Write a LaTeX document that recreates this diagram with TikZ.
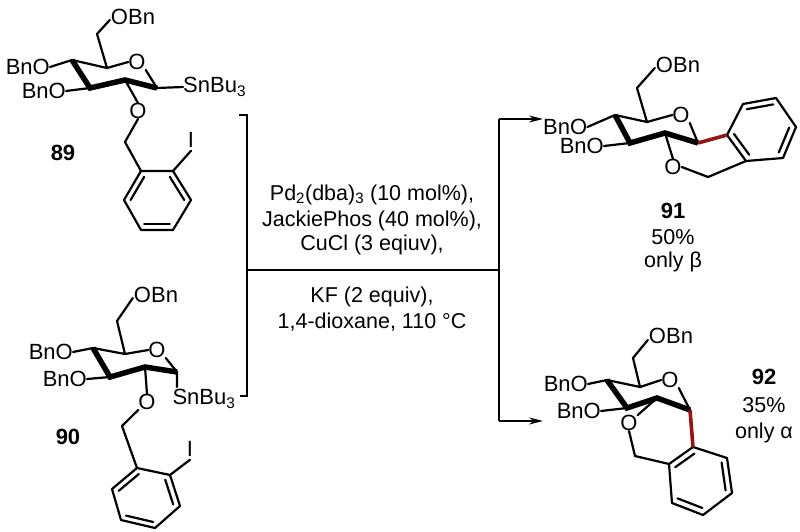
\documentclass[tikz,border=0pt]{standalone}
\usepackage{fontspec}
\setmainfont{Liberation Sans}
\usetikzlibrary{calc,arrows.meta}
\begin{document}
\begin{tikzpicture}[x=1pt,y=-1pt,
  bond/.style={line width=2.2pt,line cap=round,line join=round},
  wedgebond/.style={line width=5.5pt,line cap=butt},
  redbond/.style={line width=3.6pt,draw={rgb,255:red,150;green,20;blue,20}},
  atom/.style={inner sep=0pt,font=\fontsize{22}{24}\selectfont},
  cond/.style={inner sep=0pt,font=\fontsize{21.5}{24}\selectfont},
  cpd/.style={inner sep=0pt,font=\fontsize{22}{24}\selectfont\bfseries},
  arr/.style={line width=1.6pt,-{Stealth[length=14pt,width=7pt]}},
  frame/.style={line width=1.6pt}]
\useasboundingbox (0,0) rectangle (800,532);
\newcommand{\dbl}[3]{\draw[bond] ($(#1)!0.2!(#3)$) -- ($(#2)!0.2!(#3)$);}

% ---------------- 89 ----------------
\node[atom] (a89obn) at (133,17) {OBn};
\node[atom,anchor=east] (a89o4) at (50,67) {BnO};
\node[atom,anchor=east] (a89o3) at (66,91) {BnO};
\node[atom] (a89or) at (137,62) {O};
\node[atom,anchor=west] (a89sn) at (183,87) {SnBu\textsubscript{3}};
\node[atom] (a89o2) at (138,111) {O};
\node[atom] (a89i) at (191,140) {I};
\node[cpd] (l89) at (63,153) {89};
\coordinate (c6) at (97,34); \coordinate (c5) at (107,68);
\coordinate (c4) at (72,60); \coordinate (c3) at (90,88);
\coordinate (c2) at (125,80); \coordinate (c1) at (157,88);
\coordinate (ch2) at (125,142);
\coordinate (r1) at (141,171); \coordinate (r2) at (173,171);
\coordinate (r3) at (191,200); \coordinate (r4) at (173,230);
\coordinate (r5) at (141,230); \coordinate (r6) at (124,200);
\coordinate (rc) at (157,200);
\draw[bond] (a89obn.west) ++(-1,3) -- (c6) -- (c5) -- (c4) -- (a89o4.east);
\draw[bond] (c3) -- (a89o3.east);
\draw[bond] (c5) -- (a89or.west);
\draw[bond] (a89or.south east) -- (c1) -- (a89sn.west);
\draw[wedgebond] (c4) -- (c3) -- (c2) -- (c1);
\draw[bond] (c2) -- (a89o2.north);
\draw[bond] (a89o2.south) -- (ch2) -- (r1);
\draw[bond] (r1) -- (r2) -- (r3) -- (r4) -- (r5) -- (r6) -- cycle;
\draw[bond] (r2) -- ($(a89i.south)+(0,3)$);
\dbl{r2}{r3}{rc} \dbl{r4}{r5}{rc} \dbl{r6}{r1}{rc}

% ---------------- 90 ----------------
\node[atom] (a90obn) at (156,295) {OBn};
\node[atom,anchor=east] (a90o4) at (73,352) {BnO};
\node[atom,anchor=east] (a90o3) at (87,379) {BnO};
\node[atom] (a90or) at (157,350) {O};
\node[atom] (a90sn) at (204,399) {SnBu\textsubscript{3}};
\node[atom] (a90o2) at (147,402) {O};
\node[atom] (a90i) at (190,449) {I};
\node[cpd] (l90) at (68,437) {90};
\coordinate (d6) at (117,321); \coordinate (d5) at (125,354);
\coordinate (d4) at (93,348); \coordinate (d3) at (110,377);
\coordinate (d2) at (145,367); \coordinate (d1) at (177,372);
\coordinate (dch2) at (122,426);
\coordinate (s1) at (137,468); \coordinate (s2) at (170,475);
\coordinate (s3) at (180,506); \coordinate (s4) at (155,528);
\coordinate (s5) at (121,520); \coordinate (s6) at (112,489);
\coordinate (sc) at (146,498);
\draw[bond] (a90obn.west) ++(-1,3) -- (d6) -- (d5) -- (d4) -- (a90o4.east);
\draw[bond] (d3) -- (a90o3.east);
\draw[bond] (d5) -- (a90or.west);
\draw[bond] (a90or.south east) -- (d1) -- (177,387);
\draw[wedgebond] (d4) -- (d3) -- (d2) -- (d1);
\draw[bond] (d2) -- (a90o2.north);
\draw[bond] (a90o2.south west) -- (dch2) -- (s1);
\draw[bond] (s1) -- (s2) -- (s3) -- (s4) -- (s5) -- (s6) -- cycle;
\draw[bond] (s2) -- ($(a90i.south)+(0,3)$);
\dbl{s2}{s3}{sc} \dbl{s4}{s5}{sc} \dbl{s6}{s1}{sc}

% ---------------- bracket / arrows ----------------
\coordinate (bt) at (247,115); \coordinate (bb) at (247,396);
\coordinate (bm) at (247,270); \coordinate (vm) at (499,270);
\coordinate (vt) at (499,119); \coordinate (vb) at (499,421);
\coordinate (ta) at (543,119); \coordinate (ba) at (543,421);
\draw[frame] (239,115) -- (bt) -- (bb) -- (240,396);
\draw[frame] (bm) -- (vm);
\draw[frame] (vt) -- (vb);
\draw[arr] (vt) -- (ta);
\draw[arr] (vb) -- (ba);
\node[cond] (k1) at (372,195) {Pd\textsubscript{2}(dba)\textsubscript{3} (10 mol\%),};
\node[cond] (k2) at (372,221) {JackiePhos (40 mol\%),};
\node[cond] (k3) at (372,245) {CuCl (3 eqiuv),};
\node[cond] (k4) at (372,297) {KF (2 equiv),};
\node[cond] (k5) at (372,322) {1,4-dioxane, 110 °C};

% ---------------- 91 ----------------
\node[atom,anchor=west] (a91o4) at (543,127) {BnO};
\node[atom,anchor=east] (a91o3) at (604,146) {BnO};
\node[atom] (a91obn) at (678,65) {OBn};
\node[atom] (a91o2) at (673,167) {O};
\node[atom] (a91or) at (681,115) {O};
\node[cpd] (l91) at (673,211) {91};
\node[cond] (y91) at (673,237) {50\%};
\node[cond] (e91) at (673,262) {only β};
\coordinate (e6) at (637,88); \coordinate (e5) at (647,122);
\coordinate (e4) at (615,115); \coordinate (e3) at (630,143);
\coordinate (e2) at (665,133); \coordinate (e1) at (698,143);
\coordinate (ech2) at (708,177);
\coordinate (u1) at (727,135); \coordinate (u2) at (743,104);
\coordinate (u3) at (776,98); \coordinate (u4) at (796,127);
\coordinate (u5) at (783,158); \coordinate (u6) at (746,161);
\coordinate (uc) at (762,130);
\draw[bond] (a91obn.west) ++(-1,3) -- (e6) -- (e5) -- (e4) -- (a91o4.east);
\draw[bond] (e3) -- (a91o3.east);
\draw[bond] (e5) -- (a91or.west);
\draw[bond] (a91or.south east) -- (e1);
\draw[wedgebond] (e4) -- (e3) -- (e2) -- (e1);
\draw[bond] (e2) -- (a91o2.north);
\draw[bond] (a91o2.east) -- (ech2) -- (u6);
\draw[bond] (u1) -- (u2) -- (u3) -- (u4) -- (u5) -- (u6) -- cycle;
\dbl{u2}{u3}{uc} \dbl{u4}{u5}{uc} \dbl{u6}{u1}{uc}
\draw[redbond] (e1) -- (u1);

% ---------------- 92 ----------------
\node[atom,anchor=east] (a92o4) at (588,384) {BnO};
\node[atom,anchor=east] (a92o3) at (601,411) {BnO};
\node[atom] (a92obn) at (671,336) {OBn};
\node[atom] (a92or) at (670,380) {O};
\node[atom] (a92o2) at (629,423) {O};
\node[cpd] (l92) at (764,377) {92};
\node[cond] (y92) at (764,405) {35\%};
\node[cond] (e92) at (764,433) {only α};
\coordinate (f6) at (633,358); \coordinate (f5) at (640,387);
\coordinate (f4) at (607,380); \coordinate (f3) at (627,408);
\coordinate (f2) at (657,398); \coordinate (f1) at (690,410);
\coordinate (fch2) at (635,456);
\coordinate (v1) at (693,447); \coordinate (v2) at (727,458);
\coordinate (v3) at (732,493); \coordinate (v4) at (703,515);
\coordinate (v5) at (672,503); \coordinate (v6) at (669,464);
\coordinate (vc) at (700,480);
\draw[bond] (a92obn.west) ++(-1,4) -- (f6) -- (f5) -- (f4) -- (a92o4.east);
\draw[bond] (f3) -- (a92o3.east);
\draw[bond] (f5) -- (a92or.west);
\draw[bond] (a92or.south east) -- (f1);
\draw[wedgebond] (f4) -- (f3) -- (f2) -- (f1);
\draw[bond] (f2) -- (a92o2.north east);
\draw[bond] (a92o2.south) -- (fch2) -- (v6);
\draw[bond] (v1) -- (v2) -- (v3) -- (v4) -- (v5) -- (v6) -- cycle;
\dbl{v2}{v3}{vc} \dbl{v4}{v5}{vc} \dbl{v6}{v1}{vc}
\draw[redbond] (f1) -- (v1);
\end{tikzpicture}
\end{document}
